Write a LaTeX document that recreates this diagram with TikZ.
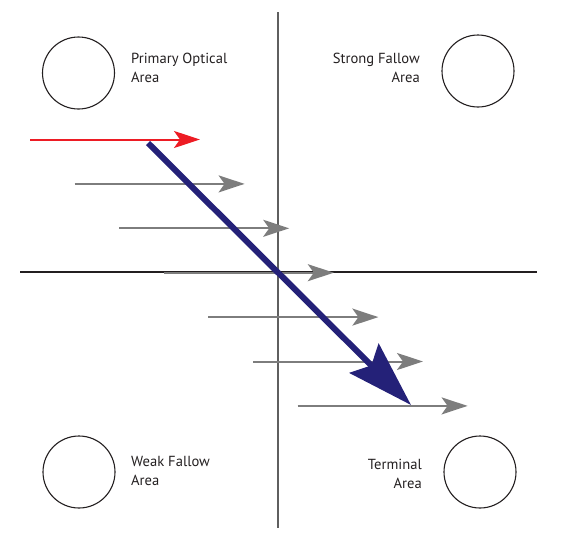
\documentclass[tikz,border=0pt]{standalone}
\usepackage{fontspec}
\setmainfont{PT Sans}
\usetikzlibrary{arrows.meta}

\definecolor{inkline}{RGB}{35,31,32}
\definecolor{axisgray}{RGB}{95,95,95}
\definecolor{redarrow}{RGB}{237,28,36}
\definecolor{grayarrow}{RGB}{125,125,125}
\definecolor{navyarrow}{RGB}{36,33,120}

\begin{document}
\begin{tikzpicture}[x=1pt, y=-1pt,
    every node/.style={font=\fontsize{14.6}{18.5}\selectfont, text=inkline},
    area/.style={circle, draw=inkline, line width=1.1pt, minimum size=72pt, inner sep=0pt},
    arealabel/.style={inner sep=0pt}]
    \useasboundingbox (0,0) rectangle (562,544);

    % Axes
    \draw[inkline, line width=1.3pt] (20,272) -- (537,272);
    \draw[axisgray, line width=1.3pt] (278,12) -- (278,528);

    % Four corner areas
    \node[area] (primary) at (78.5,73) {};
    \node[area] (strong)  at (478,71) {};
    \node[area] (weak)    at (79,472) {};
    \node[area] (terminal) at (480,472) {};

    \node[arealabel, anchor=west, align=left]  (primarylbl)  at (131,68)  {Primary Optical\\Area};
    \node[arealabel, anchor=east, align=right] (stronglbl)   at (420,68)  {Strong Fallow\\Area};
    \node[arealabel, anchor=west, align=left]  (weaklbl)     at (131,471) {Weak Fallow\\Area};
    \node[arealabel, anchor=east, align=right] (terminallbl) at (422,474) {Terminal\\Area};

    \def\dx{44.6}  % horizontal step between arrows
    \def\dy{44.4}  % vertical step between arrows
    \def\len{170}  % length of each arrow

    % Reading line (red)
    \draw[redarrow, line width=2pt, -{Stealth[length=26pt, width=17pt, inset=6pt]}]
        (30,139.5) -- ++(\len,0);

    % Gray reading lines
    \foreach \i in {1,...,6} {
        \draw[grayarrow, line width=2pt, -{Stealth[length=26pt, width=17pt, inset=6pt]}]
            (30+\i*\dx, 139.5+\i*\dy) -- ++(\len,0);
    }

    % Reading gravity (diagonal)
    \draw[navyarrow, line width=6pt, -{Stealth[length=66pt, width=41pt, inset=10pt]}]
        (148,143) -- (411,405);
\end{tikzpicture}
\end{document}
